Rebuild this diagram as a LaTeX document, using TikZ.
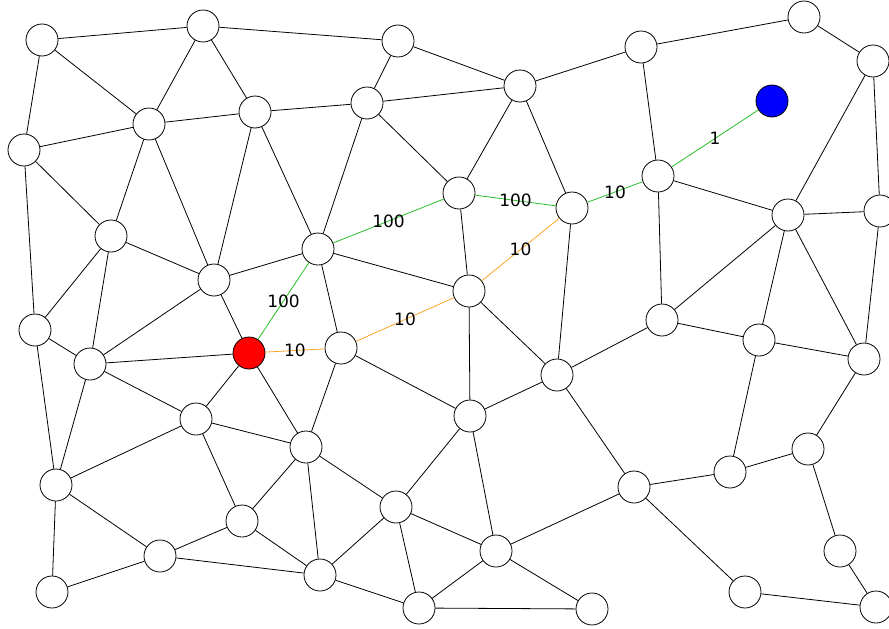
\documentclass[tikz,border=0pt]{standalone}
\usepackage{fontspec}
\setmainfont{DejaVu Sans}
\usepackage{tikz}
\usetikzlibrary{positioning}
\definecolor{pathgreen}{RGB}{40,190,40}
\definecolor{pathorange}{RGB}{255,165,40}
\tikzstyle{vertex} = [circle, draw, fill=white, line width=0.8pt, minimum size=32pt, inner sep=0pt]
\tikzset{edge/.style = {line width=0.8pt},
  weight/.style = {midway, inner sep=0pt, font=\fontsize{17}{20}\selectfont}
}

\begin{document}
\begin{tikzpicture}[x=1pt, y=-1pt]
          \useasboundingbox (0,0) rectangle (889,629);
          % vertices
          \node[vertex] (a1) at (42,40) {};
          \node[vertex] (a2) at (203,26) {};
          \node[vertex] (a3) at (398,41) {};
          \node[vertex] (a4) at (641,47) {};
          \node[vertex] (a5) at (804,17) {};
          \node[vertex] (a6) at (873,61) {};
          \node[vertex] (b1) at (24,150) {};
          \node[vertex] (b2) at (149,124) {};
          \node[vertex] (b3) at (255,112) {};
          \node[vertex] (b4) at (367,103) {};
          \node[vertex] (b5) at (520,86) {};
          \node[vertex, fill=blue] (goal) at (772,101) {};
          \node[vertex] (c1) at (459,193) {};
          \node[vertex] (c2) at (572,208) {};
          \node[vertex] (c3) at (658,176) {};
          \node[vertex] (c4) at (788,215) {};
          \node[vertex] (c5) at (880,211) {};
          \node[vertex] (d1) at (111,236) {};
          \node[vertex] (d2) at (318,249) {};
          \node[vertex] (d3) at (214,280) {};
          \node[vertex] (d4) at (469,291) {};
          \node[vertex] (e1) at (35,330) {};
          \node[vertex] (e2) at (90,364) {};
          \node[vertex, fill=red] (start) at (249,353) {};
          \node[vertex] (e3) at (341,348) {};
          \node[vertex] (f1) at (662,320) {};
          \node[vertex] (f2) at (759,340) {};
          \node[vertex] (f3) at (864,359) {};
          \node[vertex] (g1) at (557,375) {};
          \node[vertex] (g2) at (196,419) {};
          \node[vertex] (g3) at (470,416) {};
          \node[vertex] (g4) at (306,447) {};
          \node[vertex] (h1) at (808,449) {};
          \node[vertex] (h2) at (730,472) {};
          \node[vertex] (h3) at (56,485) {};
          \node[vertex] (h4) at (634,487) {};
          \node[vertex] (i1) at (242,521) {};
          \node[vertex] (i2) at (396,507) {};
          \node[vertex] (i3) at (160,556) {};
          \node[vertex] (i4) at (496,551) {};
          \node[vertex] (i5) at (840,551) {};
          \node[vertex] (j1) at (52,592) {};
          \node[vertex] (j2) at (320,575) {};
          \node[vertex] (j3) at (419,608) {};
          \node[vertex] (j4) at (592,609) {};
          \node[vertex] (j5) at (745,592) {};
          \node[vertex] (j6) at (876,607) {};

          % plain edges
          \begin{scope}[on background layer/.try]
          \foreach \u/\v in {a1/a2, a1/b1, a1/b2, a2/b2, a2/b3, a2/a3, a3/b4, a3/b5,
                             a4/b5, a4/a5, a5/a6, a4/c3, a6/c4, a6/c5,
                             b1/b2, b2/b3, b3/b4, b4/b5, b1/d1, b1/e1, b2/d1, b2/d3,
                             b3/d3, b3/d2, b4/d2, b4/c1, b5/c1, b5/c2,
                             c3/c4, c4/c5, c3/f1, c4/f1, c4/f2, c4/f3, c5/f3,
                             d1/d3, d1/e1, d1/e2, d3/d2, d3/e2, d3/start, d2/d4, d2/e3,
                             c1/d4, c2/g1, d4/g3, d4/g1,
                             e1/e2, e1/h3, e2/h3, e2/start, e2/g2, start/g2, start/g4,
                             e3/g3, e3/g4, g3/g1, g1/f1, g1/h4, f1/f2, f2/f3,
                             f2/h2, f3/h1, h2/h1, h2/h4, h1/i5, i5/j6, h4/j5, j5/j6,
                             g2/h3, g2/g4, g2/i1, h3/i3, h3/j1, j1/i3, i3/i1, i3/j2,
                             i1/g4, i1/j2, g4/i2, g4/j2, g3/i2, g3/i4, i2/j2, i2/i4,
                             i2/j3, i4/h4, i4/j3, i4/j4, j3/j4, j2/j3}
            \draw[edge] (\u) -- (\v);
          \end{scope}

          % weighted path edges
          \draw[edge, pathgreen] (start) -- (d2) node[weight, black] {100};
          \draw[edge, pathgreen] (d2) -- (c1) node[weight, black] {100};
          \draw[edge, pathgreen] (c1) -- (c2) node[weight, black] {100};
          \draw[edge, pathgreen] (c2) -- (c3) node[weight, black] {10};
          \draw[edge, pathgreen] (c3) -- (goal) node[weight, black] {1};
          \draw[edge, pathorange] (start) -- (e3) node[weight, black] {10};
          \draw[edge, pathorange] (e3) -- (d4) node[weight, black] {10};
          \draw[edge, pathorange] (d4) -- (c2) node[weight, black] {10};
\end{tikzpicture}
\end{document}
